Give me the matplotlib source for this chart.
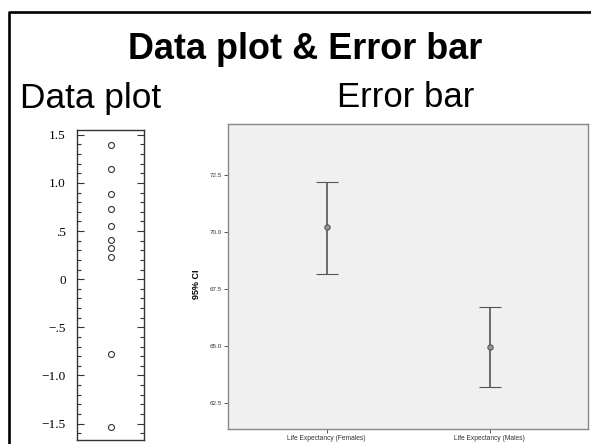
import numpy as np
import matplotlib
matplotlib.use('Agg')
import matplotlib.pyplot as plt
from matplotlib.lines import Line2D

# left panel: raw data values
data_vals = [1.39, 1.15, 0.89, 0.73, 0.55, 0.41, 0.32, 0.23, -0.78, -1.53]
data_ticks = [-1.5, -1.0, -0.5, 0, 0.5, 1.0, 1.5]
data_tick_labels = ['\u22121.5', '\u22121.0', '\u2212.5', '0', '.5', '1.0', '1.5']

# right panel: means with 95% CI
groups = ['Life Expectancy (Females)', 'Life Expectancy (Males)']
means = [70.2, 64.93]
ci_low = [68.16, 63.17]
ci_high = [72.16, 66.68]
ci_ticks = [62.5, 65.0, 67.5, 70.0, 72.5]

W, H = 591, 444
fig = plt.figure(figsize=(W / 100, H / 100), dpi=100)
fig.patch.set_facecolor('white')


def px_axes(x0, y0, x1, y1):
    return fig.add_axes([x0 / W, 1 - y1 / H, (x1 - x0) / W, (y1 - y0) / H])


# outer frame (only top and left visible)
fig.add_artist(Line2D([8.5 / W, 8.5 / W, 1.0], [0.0, 1 - 12 / H, 1 - 12 / H],
                      transform=fig.transFigure, color='black', lw=1.9))

fig.text(305 / W, 1 - 59.3 / H, 'Data plot & Error bar', ha='center', va='baseline',
         fontsize=25.9, fontweight='bold', family='Liberation Sans')
fig.text(20 / W, 1 - 108.3 / H, 'Data plot', ha='left', va='baseline',
         fontsize=25.4, family='Liberation Sans')
fig.text(337 / W, 1 - 107 / H, 'Error bar', ha='left', va='baseline',
         fontsize=25.0, family='Liberation Sans')

# ---- data plot ----
ax1 = px_axes(77, 130, 144, 440)
ax1.plot([0.5] * len(data_vals), data_vals, 'o', mfc='none', mec='#333333', ms=4.3, mew=0.8)
ax1.set_xlim(0, 1)
ax1.set_ylim(-1.67, 1.55)
ax1.set_xticks([])
ax1.set_yticks(data_ticks)
ax1.set_yticklabels(data_tick_labels, family='Liberation Serif', fontsize=9.5)
ax1.set_yticks(np.arange(-1.6, 1.55, 0.1), minor=True)
ax1.tick_params(axis='y', which='both', direction='in', left=True, right=True, width=0.8, color='#333333', pad=8)
ax1.tick_params(axis='y', which='major', length=5)
ax1.tick_params(axis='y', which='minor', length=3)
for s in ax1.spines.values():
    s.set_color('#333333')
    s.set_linewidth(1.0)

# ---- error bar plot ----
ax2 = px_axes(227.7, 124.3, 588, 429)
ax2.set_facecolor('#f0f0f0')
xpos = np.arange(len(groups))
means_a = np.array(means)
yerr = [means_a - np.array(ci_low), np.array(ci_high) - means_a]
ax2.errorbar(xpos, means, yerr=yerr, fmt='o', color='#555555', ecolor='#555555',
             elinewidth=1.2, capsize=8.1, capthick=1.2, ms=3.8, mfc='#999999', mec='#555555', mew=0.8)
ax2.set_xlim(-0.607, 1.603)
ax2.set_ylim(61.35, 74.7)
ax2.set_xticks(xpos)
ax2.set_xticklabels(groups, fontsize=4.8, color='#333333', family='Liberation Sans')
ax2.set_yticks(ci_ticks)
ax2.set_yticklabels(['%.1f' % t for t in ci_ticks], fontsize=4.5, color='#333333', family='Liberation Sans')
ax2.tick_params(axis='both', direction='out', length=3, width=0.7, color='#555555', pad=1)
ax2.set_ylabel('95% CI', fontsize=6.5, fontweight='bold', family='Liberation Sans')
ax2.yaxis.set_label_coords(-0.075, 0.476)
for s in ax2.spines.values():
    s.set_color('#888888')
    s.set_linewidth(1.0)

fig.savefig('out.png', dpi=100)
